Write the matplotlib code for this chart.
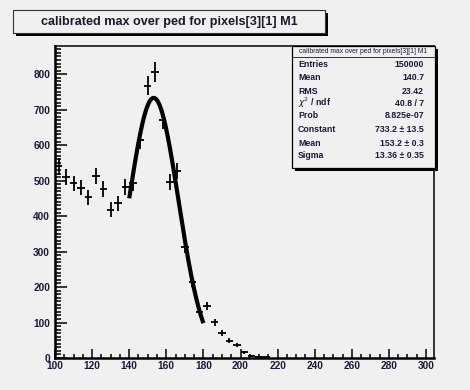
import numpy as np
import matplotlib
matplotlib.use("Agg")
import matplotlib.pyplot as plt
from matplotlib.patches import Rectangle
from matplotlib.ticker import MultipleLocator

plt.rcParams['font.family'] = ['Liberation Sans', 'DejaVu Sans']

# ---- data ----
bin_centers = [102, 106, 110, 114, 118, 122, 126, 130, 134, 138,
               142, 146, 150, 154, 158, 162, 166, 170, 174, 178,
               182, 186, 190, 194, 198, 202, 206, 210, 214]
counts = [540, 509, 492, 480, 453, 514, 477, 418, 436, 482,
          492, 614, 768, 807, 672, 497, 527, 313, 215, 130,
          146, 101, 70, 49, 37, 16, 5, 3, 2]
bin_width = 4
fit_params = [733.2, 153.2, 13.36]   # constant, mean, sigma
fit_range = [140, 180]
title = "calibrated max over ped for pixels[3][1] M1"
stat_labels = ["Entries", "Mean", "RMS", r"$\chi^2$ / ndf", "Prob",
               "Constant", "Mean", "Sigma"]
stat_values = ["150000", "140.7", "23.42", "40.8 / 7", "8.825e-07",
               "733.2 \u00b1 13.5", "153.2 \u00b1 0.3", "13.36 \u00b1 0.35"]

W, H = 470, 390
BG = '#f0f0f0'
fig = plt.figure(figsize=(W / 100, H / 100), dpi=100, facecolor=BG)


def fx(x):
    return x / W


def fy(y):
    return 1 - y / H


ax_l, ax_r, ax_t, ax_b = 55, 434, 46.5, 358
ax = fig.add_axes([fx(ax_l), fy(ax_b), (ax_r - ax_l) / W, (ax_b - ax_t) / H])
ax.set_facecolor(BG)
ax.set_xlim(100, 304.3)
ax.set_ylim(0, 878)

x = np.array(bin_centers, float)
y = np.array(counts, float)
ax.errorbar(x, y, yerr=np.sqrt(y), xerr=bin_width / 2, fmt='none',
            ecolor='black', elinewidth=1.3, capsize=0, zorder=3)

xf = np.linspace(fit_range[0], fit_range[1], 300)
A, mu, sg = fit_params
ax.plot(xf, A * np.exp(-0.5 * ((xf - mu) / sg) ** 2), color='black',
        lw=3.0, solid_capstyle='butt', zorder=4)

ax.xaxis.set_major_locator(MultipleLocator(20))
ax.xaxis.set_minor_locator(MultipleLocator(5))
ax.yaxis.set_major_locator(MultipleLocator(100))
ax.yaxis.set_minor_locator(MultipleLocator(10))
ax.tick_params(axis='both', which='both', direction='in', colors='black',
               top=False, right=False, width=1.1)
ax.tick_params(axis='x', which='major', length=6.5, pad=2.5)
ax.tick_params(axis='x', which='minor', length=3.2)
ax.tick_params(axis='y', which='major', length=8.3, pad=3.5)
ax.tick_params(axis='y', which='minor', length=4.1)
for lab in ax.get_xticklabels() + ax.get_yticklabels():
    lab.set_fontsize(7.3)
    lab.set_fontweight('bold')
    lab.set_color('#1a1a3a')
for s in ['left', 'bottom']:
    ax.spines[s].set_linewidth(1.8)
for s in ['right', 'top']:
    ax.spines[s].set_linewidth(1.1)

# ---- title box ----
fig.add_artist(Rectangle((fx(16), fy(36)), (325 - 13) / W, (33 - 10) / H,
                         transform=fig.transFigure, facecolor='black',
                         edgecolor='none', zorder=5))
fig.add_artist(Rectangle((fx(13), fy(33)), (325 - 13) / W, (33 - 10) / H,
                         transform=fig.transFigure, facecolor=BG,
                         edgecolor='#333333', lw=0.8, zorder=6))
fig.text(fx(169.5), fy(21.5), title, ha='center', va='center',
         fontsize=9.1, fontweight='bold', color='#1a1a2a', zorder=7)

# ---- stats box ----
sb_l, sb_r, sb_t, sb_b = 292, 435, 46, 168
fig.add_artist(Rectangle((fx(sb_l + 2.5), fy(sb_b + 2.5)), (sb_r - sb_l) / W,
                         (sb_b - sb_t) / H, transform=fig.transFigure,
                         facecolor='black', edgecolor='none', zorder=5))
fig.add_artist(Rectangle((fx(sb_l), fy(sb_b)), (sb_r - sb_l) / W,
                         (sb_b - sb_t) / H, transform=fig.transFigure,
                         facecolor=BG, edgecolor='black', lw=0.9, zorder=6))
fig.add_artist(plt.Line2D([fx(sb_l), fx(sb_r)], [fy(56.7), fy(56.7)],
                          transform=fig.transFigure, color='#333333',
                          lw=0.7, zorder=7))
fig.text(fx((sb_l + sb_r) / 2), fy(51.8), title, ha='center', va='center',
         fontsize=4.9, color='#1a1a3a', zorder=7)
row_y = [64.3, 77.7, 91.0, 103.0, 116.0, 130.0, 143.3, 156.0]
for lab, val, ry in zip(stat_labels, stat_values, row_y):
    fig.text(fx(298), fy(ry), lab, ha='left', va='center', fontsize=6.3,
             fontweight='bold', color='#1a1a3a', zorder=7)
    fig.text(fx(424), fy(ry), val, ha='right', va='center', fontsize=6.3,
             fontweight='bold', color='#1a1a3a', zorder=7)

fig.savefig('out.png', dpi=100, facecolor=BG)
